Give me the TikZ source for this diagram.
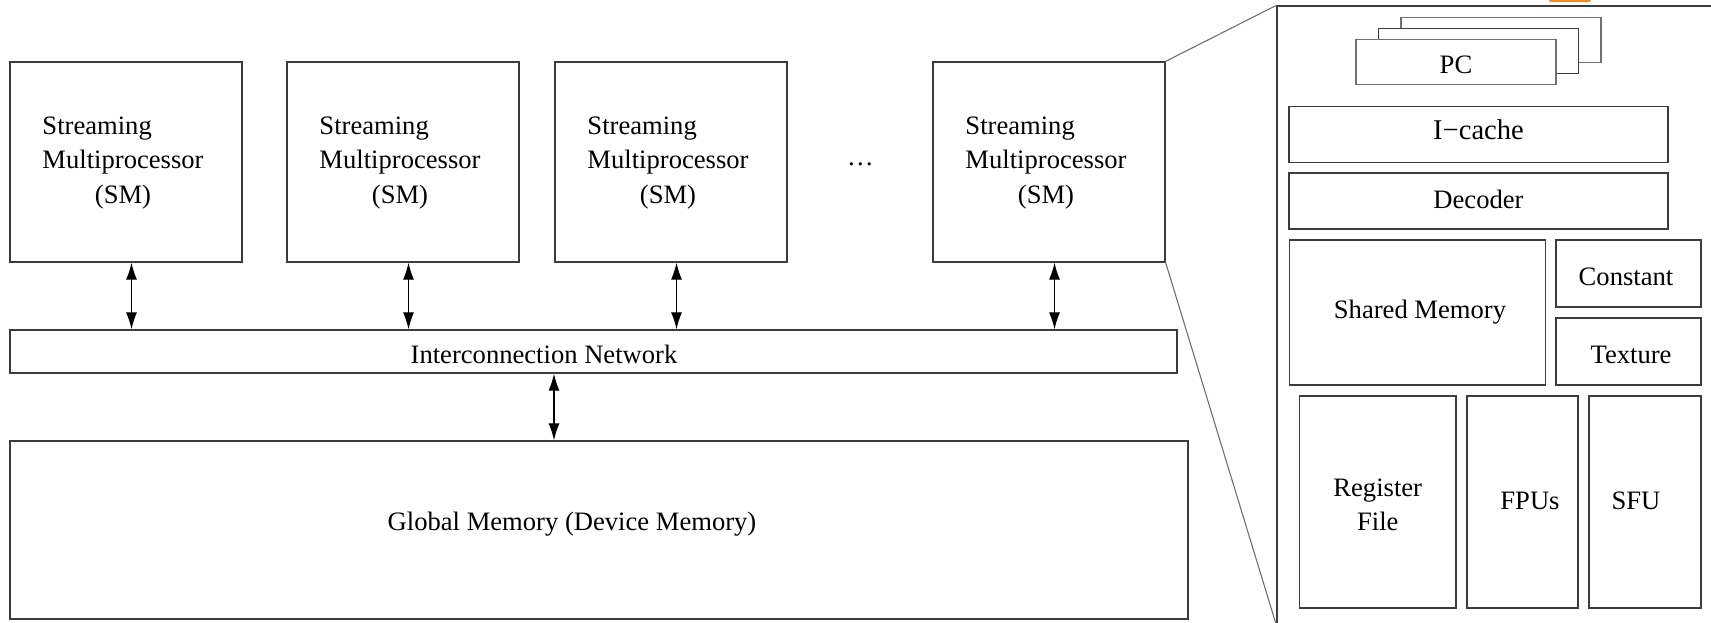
\documentclass[tikz,border=0pt]{standalone}
\usepackage{fontspec}
\setmainfont{Liberation Serif}
\usetikzlibrary{arrows.meta}
\definecolor{edge}{HTML}{3C3C3C}
\definecolor{lightedge}{HTML}{707070}
\definecolor{blob}{HTML}{F08A24}
\newcommand{\smlabel}{\begin{tabular}{@{}l@{}}Streaming\\Multiprocessor\\\multicolumn{1}{@{}c@{}}{(SM)}\end{tabular}}
\begin{document}
\begin{tikzpicture}[x=1pt,y=-1pt,
  font=\fontsize{26.6}{34.5}\selectfont,
  box/.style n args={2}{draw=edge,line width=1.3pt,inner sep=0pt,fill=white,
    minimum width=#1pt,minimum height=#2pt},
  bi/.style={{Latex[length=17pt,width=11pt]}-{Latex[length=17pt,width=11pt]},line width=1.2pt,draw=black},
  zoomline/.style={draw=lightedge,line width=1.1pt}]
\useasboundingbox (0,0) rectangle (1711,622);
% orange fragment at the top edge
\fill[blob,rounded corners=2pt] (1549,-8) rectangle (1591,2);
% left part
\node[box={232}{200}] (sm1) at (126,162) {};
\node[box={232}{200}] (sm2) at (403,162) {};
\node[box={232}{200}] (sm3) at (671,162) {};
\node[box={232}{200}] (sm4) at (1049,162) {};
\node (t1) at (123,162) {\smlabel};
\node (t2) at (400,162) {\smlabel};
\node (t3) at (668,162) {\smlabel};
\node (t4) at (1046,162) {\smlabel};
\node[anchor=base] (dots) at (860.5,165) {…};
\node[box={1167}{43}] (net) at (593.5,351.5) {};
\node (nettext) at (544,354) {Interconnection Network};
\node[box={1178}{178}] (glob) at (599,530) {};
\node (globtext) at (572,524) {Global Memory (Device Memory)};
\foreach \s in {sm1,sm2,sm3,sm4}
  \draw[bi] ([xshift=5.5pt]\s.south) -- ([xshift=5.5pt]\s.south |- net.north);
\draw[bi] ([xshift=-39.5pt]net.south) -- ([xshift=-39.5pt]net.south |- glob.north);
% zoomed SM panel
\node[box={463}{650},fill=none] (panel) at (1508.5,331) {};
\coordinate (pb) at (1276,624);
\draw[zoomline] (sm4.north east) -- (panel.north west);
\draw[zoomline] (sm4.south east) -- (pb);
\node[box={200}{45},draw=lightedge] (pc3) at (1501,39.8) {};
\node[box={200}{45}] (pc2) at (1478.5,51) {};
\node[box={200}{45},draw=lightedge,label={[yshift=-3pt]center:PC}] (pc1) at (1456,61.8) {};
\node[box={379}{56},label={[yshift=5pt,font=\fontsize{28.6}{34}\selectfont]center:I−cache}] (icache) at (1478.5,134.5) {};
\node[box={379}{56},label={[yshift=2pt]center:Decoder}] (decoder) at (1478.5,201) {};
\node[box={256}{145},label={[xshift=2.5pt,yshift=0pt]center:Shared Memory}] (shmem) at (1417.5,312.5) {};
\node[box={145}{67},label={[xshift=-2.5pt,yshift=-3.5pt]center:Constant}] (const) at (1628.5,273.5) {};
\node[box={145}{67},label={[xshift=2.5pt,yshift=-3.5pt]center:Texture}] (texture) at (1628.5,351.5) {};
\node[box={156.5}{212},label={[align=center,yshift=-3pt]center:Register\\File}] (reg) at (1377.75,502) {};
\node[box={111}{212},label={[xshift=7.5pt,yshift=1pt]center:FPUs}] (fpu) at (1522.5,502) {};
\node[box={112}{212},label={[xshift=-9pt,yshift=1pt]center:SFU}] (sfu) at (1645,502) {};
\end{tikzpicture}
\end{document}
